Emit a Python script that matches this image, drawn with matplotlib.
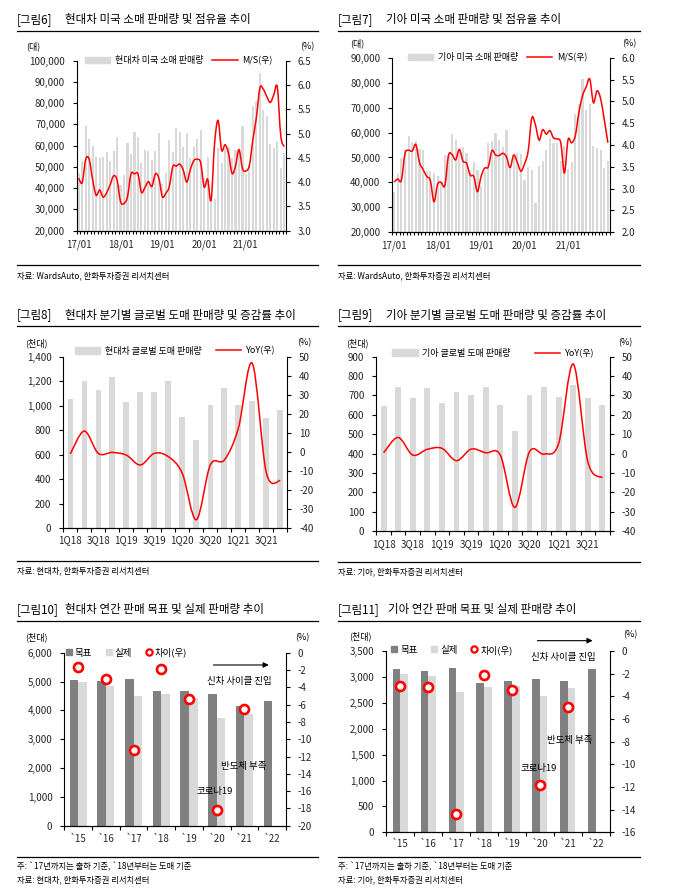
import numpy as np
import matplotlib
matplotlib.use('Agg')
import matplotlib.pyplot as plt
from matplotlib.path import Path
from matplotlib.patches import PathPatch, Patch
from matplotlib.lines import Line2D
from matplotlib.ticker import FuncFormatter

plt.rcParams['font.family'] = ['Noto Sans CJK KR', 'DejaVu Sans']
plt.rcParams['axes.unicode_minus'] = False

# ---------------- data ----------------
month_labels = ['17/01', '18/01', '19/01', '20/01', '21/01']

hy_us_sales = [47000, 53000, 69500, 63000, 60000, 54500, 54000, 54500, 57000, 53000, 57500, 64000,
               41500, 46000, 61500, 56000, 66500, 64000, 52000, 58000, 57500, 53500, 57500, 66000,
               42000, 47000, 62500, 57000, 68500, 66500, 59500, 66000, 54000, 59500, 63000, 67500,
               45000, 54800, 36000, 35000, 59000, 52000, 59000, 59500, 54000, 58000, 58000, 69500,
               46000, 51000, 78700, 81000, 94000, 76800, 74000, 61000, 58800, 62200, 49600, 56400]
hy_us_ms = [4.08, 3.99, 4.47, 4.47, 4.04, 3.73, 3.84, 3.69, 3.78, 3.94, 4.13, 4.04,
            3.60, 3.56, 3.70, 4.17, 4.17, 4.17, 3.79, 3.89, 4.01, 3.91, 4.17, 4.08,
            3.70, 3.77, 3.91, 4.32, 4.33, 4.37, 4.25, 4.00, 4.25, 4.44, 4.47, 4.40,
            3.90, 4.06, 3.63, 4.80, 5.27, 4.66, 4.77, 4.59, 4.18, 4.33, 4.67, 4.28,
            4.23, 4.35, 4.88, 5.33, 5.94, 5.91, 5.76, 5.64, 5.80, 5.96, 4.95, 4.73]

kia_us_sales = [36000, 43200, 49900, 53400, 58800, 56300, 56800, 53500, 52800, 44700, 44500, 43600,
                42500, 40500, 51000, 51000, 59500, 57000, 53000, 54000, 51700, 45000, 48000, 45000,
                38500, 44000, 56000, 56500, 60000, 57000, 54000, 61000, 45400, 50900, 51800, 51500,
                40900, 46100, 45000, 31800, 46400, 48600, 52900, 57700, 56000, 56000, 48600, 54500,
                45400, 48200, 67500, 71300, 81500, 69200, 71300, 54500, 53600, 52900, 45800, 48500]
kia_us_ms = [3.15, 3.22, 3.19, 3.80, 3.88, 3.86, 4.01, 3.60, 3.44, 3.28, 3.19, 2.70,
             3.10, 3.14, 3.07, 3.76, 3.78, 3.66, 3.90, 3.63, 3.58, 3.31, 3.28, 2.93,
             3.28, 3.47, 3.50, 3.87, 3.77, 3.76, 3.81, 3.73, 3.48, 3.77, 3.60, 3.40,
             3.57, 3.86, 4.62, 4.46, 4.11, 4.35, 4.25, 4.33, 4.16, 4.14, 4.05, 3.36,
             4.12, 4.05, 4.21, 4.75, 5.13, 5.33, 5.51, 4.97, 5.24, 5.06, 4.58, 4.05]

quarters = ['1Q18', '2Q18', '3Q18', '4Q18', '1Q19', '2Q19', '3Q19', '4Q19',
            '1Q20', '2Q20', '3Q20', '4Q20', '1Q21', '2Q21', '3Q21', '4Q21']
hy_q_sales = [1054, 1201, 1128, 1234, 1030, 1111, 1111, 1201, 910, 723, 1005, 1144, 1005, 1038, 902, 965]
hy_q_yoy = [-1.0, 11.0, -0.7, -0.2, -1.6, -6.8, -0.7, -2.4, -11.2, -35.5, -6.8, -4.2, 12.4, 46.5, -10.8, -15.0]
kia_q_sales = [645, 742, 687, 737, 659, 716, 700, 742, 650, 518, 702, 742, 690, 752, 685, 650]
kia_q_yoy = [0.4, 8.3, -0.8, 2.2, 2.7, -3.7, 2.3, 0.4, -0.8, -27.8, 0.9, -0.3, 5.2, 46.2, -4.2, -12.5]

years = ['`15', '`16', '`17', '`18', '`19', '`20', '`21', '`22']
hy_target = [5050, 5015, 5085, 4680, 4680, 4578, 4162, 4333]
hy_actual = [4983, 4855, 4509, 4578, 4439, 3746, 3884]
hy_diff = [-1.7, -3.0, -11.3, -1.9, -5.4, -18.2, -6.5]
kia_target = [3155, 3120, 3170, 2880, 2925, 2965, 2925, 3155]
kia_actual = [3055, 3015, 2715, 2810, 2830, 2625, 2785]
kia_diff = [-3.1, -3.2, -14.4, -2.1, -3.4, -11.8, -4.9]

# ---------------- style ----------------
BAR = '#D9D9D9'
DARK = '#808080'
RED = '#FF0000'
TXT = '#262626'

W, H = 686, 896
fig = plt.figure(figsize=(W / 100, H / 100), dpi=100)


def rect(l, t, r, b):
    return [l / W, 1 - b / H, (r - l) / W, (b - t) / H]


def ftext(x, y, s, size=7.0, ha='left', va='center', color='black'):
    fig.text(x / W, 1 - y / H, s, fontsize=size, ha=ha, va=va, color=color)


def hline(x0, x1, y, lw=0.9):
    fig.add_artist(Line2D([x0 / W, x1 / W], [1 - y / H, 1 - y / H], color='black', lw=lw))


def smooth_path(x, y):
    n = len(x)
    verts = [(x[0], y[0])]
    codes = [Path.MOVETO]
    for i in range(n - 1):
        x0, y0 = (x[i - 1], y[i - 1]) if i > 0 else (x[i], y[i])
        x3, y3 = (x[i + 2], y[i + 2]) if i + 2 < n else (x[i + 1], y[i + 1])
        c1 = (x[i] + (x[i + 1] - x0) / 6.0, y[i] + (y[i + 1] - y0) / 6.0)
        c2 = (x[i + 1] - (x3 - x[i]) / 6.0, y[i + 1] - (y3 - y[i]) / 6.0)
        verts += [c1, c2, (x[i + 1], y[i + 1])]
        codes += [Path.CURVE4] * 3
    return Path(verts, codes)


def style_axes(ax, ax2, xpad):
    ax.spines['top'].set_visible(False)
    ax.spines['right'].set_visible(False)
    ax2.spines['top'].set_visible(False)
    ax2.spines['left'].set_visible(False)
    for s in ('left', 'bottom'):
        ax.spines[s].set_linewidth(0.8)
    ax2.spines['right'].set_linewidth(0.8)
    ax.tick_params(axis='y', direction='out', length=3, width=0.8, labelsize=7, pad=5.5, labelcolor=TXT)
    ax2.tick_params(axis='y', direction='out', length=3, width=0.8, labelsize=7, pad=5.5, labelcolor=TXT)
    ax.tick_params(axis='x', which='major', length=0, labelsize=7, pad=xpad, labelcolor=TXT)
    ax.tick_params(axis='x', which='minor', direction='out', length=2.5, width=0.8)


def header(x, y, tag, title, title_x, x_end):
    ftext(x, y, tag, size=8.3)
    ftext(title_x, y, title, size=8.3)
    hline(x, x_end, y + 11)


thousands = FuncFormatter(lambda v, p: f'{v:,.0f}')


def monthly(rpx, sales, ms, ylim, ystep, y2lim, y2step, lab, legx):
    ax = fig.add_axes(rect(*rpx))
    n = len(sales)
    x = np.arange(n)
    ax.bar(x, sales, width=0.6, color=BAR, zorder=1)
    ax.set_xlim(-0.5, n - 0.5)
    ax.set_ylim(*ylim)
    ax.set_yticks(np.arange(ylim[0], ylim[1] + 1, ystep))
    ax.yaxis.set_major_formatter(thousands)
    ax.set_xticks(x[::12])
    ax.set_xticklabels(month_labels)
    ax.set_xticks(np.arange(-0.5, n, 1.0), minor=True)
    ax2 = ax.twinx()
    ax2.add_patch(PathPatch(smooth_path(x, ms), fill=False, ec=RED, lw=1.1))
    ax2.set_ylim(*y2lim)
    ax2.set_yticks(np.arange(y2lim[0], y2lim[1] + 1e-6, y2step))
    ax2.yaxis.set_major_formatter(FuncFormatter(lambda v, p: f'{v:.1f}'))
    style_axes(ax, ax2, 6)
    handles = [Patch(color=BAR), Line2D([], [], color=RED, lw=1.1)]
    ax2.legend(handles, [lab, 'M/S(우)'], loc='center', bbox_to_anchor=(legx, 1.0), ncol=2,
               frameon=False, fontsize=6.5, handlelength=2.8, handleheight=0.75,
               columnspacing=1.0, handletextpad=0.5, borderpad=0, borderaxespad=0)
    return ax, ax2


def quarterly(rpx, sales, yoy, ylim, ystep, lab, legx, legy, colsp, xpad):
    ax = fig.add_axes(rect(*rpx))
    n = len(sales)
    x = np.arange(n)
    ax.bar(x, sales, width=0.4, color=BAR, zorder=1)
    ax.set_xlim(-0.5, n - 0.5)
    ax.set_ylim(*ylim)
    ax.set_yticks(np.arange(ylim[0], ylim[1] + 1, ystep))
    ax.yaxis.set_major_formatter(thousands)
    ax.set_xticks(x[::2])
    ax.set_xticklabels(quarters[::2])
    ax.set_xticks(np.arange(-0.5, n, 1.0), minor=True)
    ax2 = ax.twinx()
    ax2.add_patch(PathPatch(smooth_path(x, yoy), fill=False, ec=RED, lw=1.1))
    ax2.set_ylim(-40, 50)
    ax2.set_yticks(np.arange(-40, 51, 10))
    style_axes(ax, ax2, xpad)
    ax.tick_params(axis='x', which='minor', length=3)
    handles = [Patch(color=BAR), Line2D([], [], color=RED, lw=1.1)]
    ax2.legend(handles, [lab, 'YoY(우)'], loc='center', bbox_to_anchor=(legx, legy), ncol=2,
               frameon=False, fontsize=6.5, handlelength=2.8, handleheight=0.75,
               columnspacing=colsp, handletextpad=0.5, borderpad=0, borderaxespad=0)
    return ax, ax2


def annual(rpx, target, actual, diff, ylim, ystep, y2min, bw, legx, legy, xpad):
    ax = fig.add_axes(rect(*rpx))
    n = len(years)
    x = np.arange(n)
    ax.bar(x - bw / 2, target, width=bw, color=DARK, zorder=1)
    ax.bar(x[:len(actual)] + bw / 2, actual, width=bw, color=BAR, zorder=1)
    ax.set_xlim(-0.5, n - 0.5)
    ax.set_ylim(*ylim)
    ax.set_yticks(np.arange(ylim[0], ylim[1] + 1, ystep))
    ax.yaxis.set_major_formatter(thousands)
    ax.set_xticks(x)
    ax.set_xticklabels(years)
    ax.set_xticks(np.arange(-0.5, n, 1.0), minor=True)
    ax2 = ax.twinx()
    ax2.plot(x[:len(diff)], diff, ls='none', marker='o', ms=6.5, mfc='white', mec=RED, mew=1.9,
             clip_on=False, zorder=5)
    ax2.set_ylim(y2min, 0)
    ax2.set_yticks(np.arange(y2min, 1, 2))
    style_axes(ax, ax2, xpad)
    ax.tick_params(axis='x', which='minor', length=3)
    handles = [Line2D([], [], ls='none', marker='s', ms=5, color=DARK),
               Line2D([], [], ls='none', marker='s', ms=5, color=BAR),
               Line2D([], [], ls='none', marker='o', ms=4.5, mfc='white', mec=RED, mew=1.6)]
    ax2.legend(handles, ['목표', '실제', '차이(우)'], loc='center', bbox_to_anchor=(legx, legy), ncol=3,
               frameon=False, fontsize=6.8, handlelength=0.7, handletextpad=0.3,
               columnspacing=1.4, borderpad=0, borderaxespad=0)
    return ax, ax2


# ---------------- panel 6 ----------------
header(17, 20, '[그림6]', '현대차 미국 소매 판매량 및 점유율 추이', 65, 318)
ftext(33, 46.5, '(대)', size=6.5, ha='center')
ftext(307, 46.5, '(%)', size=6.5, ha='center')
monthly((77, 60.7, 286, 230.7), hy_us_sales, hy_us_ms, (20000, 100000), 10000, (3.0, 6.5), 0.5,
        '현대차 미국 소매 판매량', 0.487)
hline(17, 318, 265)
ftext(17, 276, '자료: WardsAuto, 한화투자증권 리서치센터', size=6)

# ---------------- panel 7 ----------------
header(338, 20, '[그림7]', '기아 미국 소매 판매량 및 점유율 추이', 386, 640)
ftext(357, 43.5, '(대)', size=6.5, ha='center')
ftext(629, 43.5, '(%)', size=6.5, ha='center')
monthly((392.3, 57.7, 609.7, 232.3), kia_us_sales, kia_us_ms, (20000, 90000), 10000, (2.0, 6.0), 0.5,
        '기아 미국 소매 판매량', 0.484)
hline(338, 640, 265)
ftext(338, 276, '자료: WardsAuto, 한화투자증권 리서치센터', size=6)

# ---------------- panel 8 ----------------
header(17, 315, '[그림8]', '현대차 분기별 글로벌 도매 판매량 및 증감률 추이', 65, 318)
ftext(36, 343, '(천대)', size=6.5, ha='center')
ftext(304, 343, '(%)', size=6.5, ha='center')
quarterly((63.3, 356.7, 287.3, 528.3), hy_q_sales, hy_q_yoy, (0, 1400), 200,
          '현대차 글로벌 도매 판매량', 0.5, 1.033, 1.6, 5)
hline(17, 318, 561)
ftext(17, 570.5, '자료: 현대차, 한화투자증권 리서치센터', size=6)

# ---------------- panel 9 ----------------
header(338, 315, '[그림9]', '기아 분기별 글로벌 도매 판매량 및 증감률 추이', 386, 640)
ftext(357, 343, '(천대)', size=6.5, ha='center')
ftext(625, 343, '(%)', size=6.5, ha='center')
quarterly((376.3, 356.7, 609.7, 531), kia_q_sales, kia_q_yoy, (0, 900), 100,
          '기아 글로벌 도매 판매량', 0.502, 1.02, 2.7, 6)
hline(338, 640, 561.7)
ftext(338, 571.7, '자료: 기아, 한화투자증권 리서치센터', size=6)

# ---------------- panel 10 ----------------
header(17, 610, '[그림10]', '현대차 연간 판매 목표 및 실제 판매량 추이', 65, 318)
ftext(36, 637.5, '(천대)', size=6.5, ha='center')
ftext(302.5, 638, '(%)', size=6.5, ha='center')
ax10, ax10b = annual((64.3, 652.7, 286, 825.7), hy_target, hy_actual, hy_diff, (0, 6000), 1000, -20,
                     0.31, 0.28, 1.0, 6)
ax10.annotate('', xy=(0.935, 0.929), xytext=(0.66, 0.929), xycoords='axes fraction',
              arrowprops=dict(arrowstyle='-|>', color='black', lw=0.8, mutation_scale=8))
ax10.text(0.788, 0.836, '신차 사이클 진입', transform=ax10.transAxes, fontsize=6.8, ha='center', va='center')
ax10.text(0.811, 0.341, '반도체 부족', transform=ax10.transAxes, fontsize=6.8, ha='center', va='center')
ax10.text(0.680, 0.197, '코로나19', transform=ax10.transAxes, fontsize=6.8, ha='center', va='center')
hline(17, 318, 856.7)
ftext(17, 866.7, '주: `17년까지는 출하 기준, `18년부터는 도매 기준', size=6)
ftext(17, 880, '자료: 현대차, 한화투자증권 리서치센터', size=6)

# ---------------- panel 11 ----------------
header(338, 610, '[그림11]', '기아 연간 판매 목표 및 실제 판매량 추이', 388, 640)
ftext(360, 636.5, '(천대)', size=6.5, ha='center')
ftext(630, 635, '(%)', size=6.5, ha='center')
ax11, ax11b = annual((386.3, 651, 609.7, 832.3), kia_target, kia_actual, kia_diff, (0, 3500), 500, -16,
                     0.27, 0.294, 1.006, 5)
ax11.annotate('', xy=(0.936, 1.057), xytext=(0.664, 1.057), xycoords='axes fraction',
              arrowprops=dict(arrowstyle='-|>', color='black', lw=0.8, mutation_scale=8),
              annotation_clip=False)
ax11.text(0.791, 0.965, '신차 사이클 진입', transform=ax11.transAxes, fontsize=6.8, ha='center', va='center')
ax11.text(0.820, 0.504, '반도체 부족', transform=ax11.transAxes, fontsize=6.8, ha='center', va='center')
ax11.text(0.684, 0.353, '코로나19', transform=ax11.transAxes, fontsize=6.8, ha='center', va='center')
hline(338, 640, 856.7)
ftext(338, 866.7, '주: `17년까지는 출하 기준, `18년부터는 도매 기준', size=6)
ftext(338, 880, '자료: 기아, 한화투자증권 리서치센터', size=6)

fig.savefig('out.png', dpi=100, facecolor='white')
